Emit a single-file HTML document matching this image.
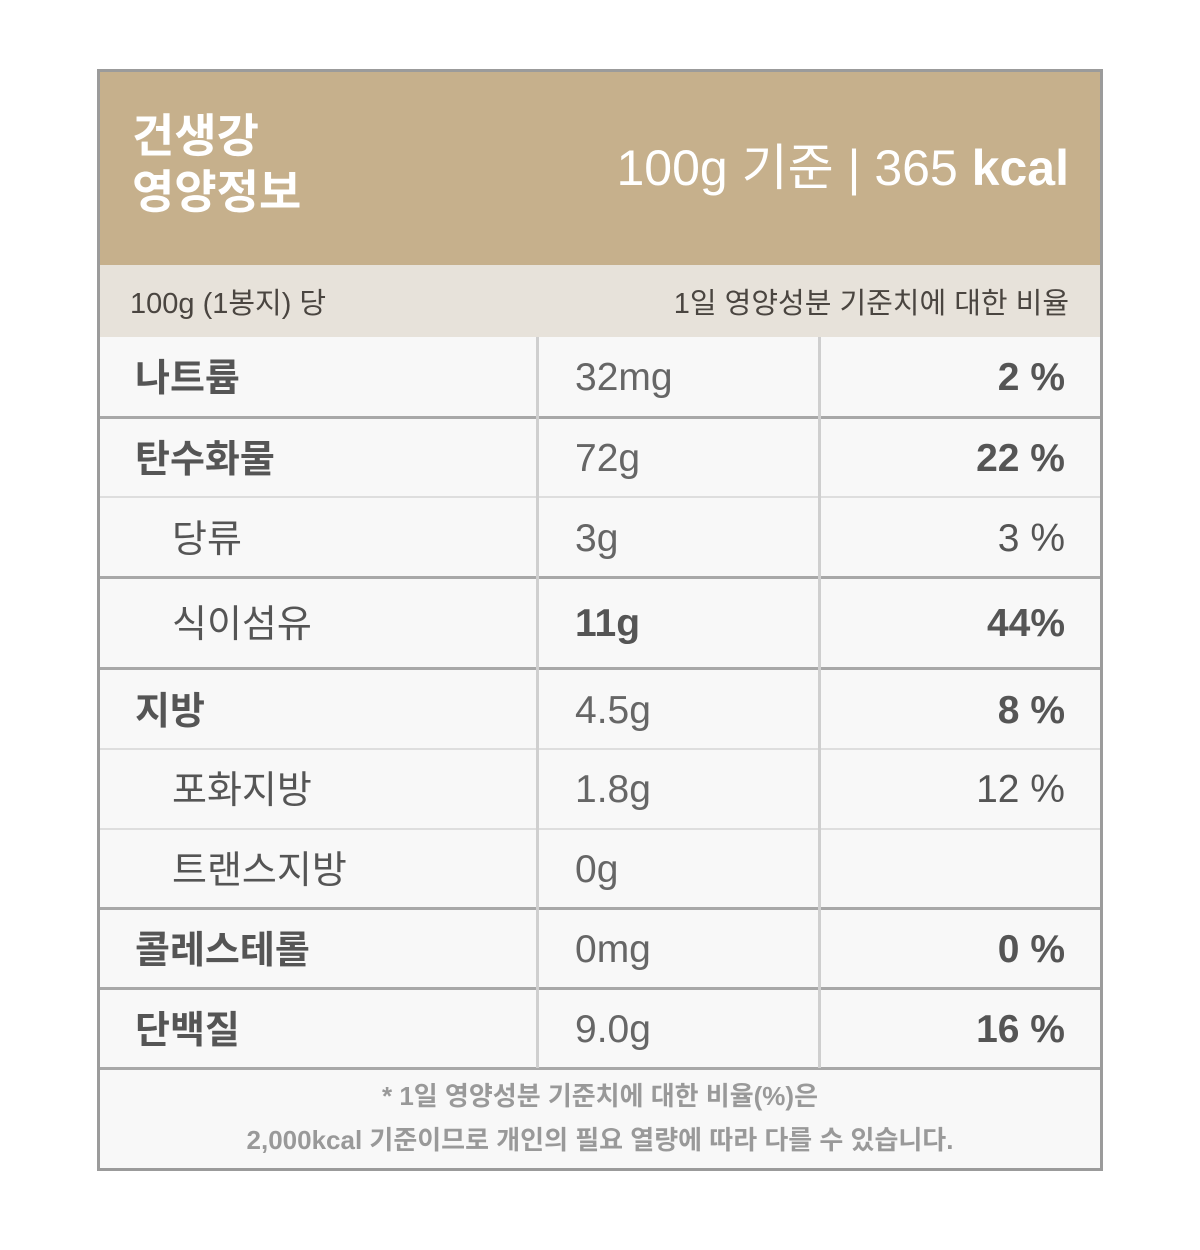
<!DOCTYPE html>
<html><head><meta charset="utf-8"><style>
body{margin:0;width:1200px;height:1250px;background:#fff;font-family:"Liberation Sans","Noto Sans CJK KR",sans-serif;position:relative;overflow:hidden}
.a{position:absolute}
.box{left:97px;top:69px;width:1000px;height:1096px;border:3px solid #9b9b9b;background:#f8f8f8}
.hdr{left:100px;top:72px;width:1000px;height:193px;background:#c6b08c}
.sub{left:100px;top:265px;width:1000px;height:72px;background:#e7e2da}
.hl{position:absolute;left:100px;width:1000px}
.thick{height:3px;background:#a8a8a8}
.thin{height:2px;background:#dedede}
.vl{position:absolute;top:337px;height:731px;width:3px;background:#cfcfcf}
.lab{position:absolute;font-size:38px;color:#555;font-weight:bold;left:135px;margin-top:-7px}
.lab.s{font-weight:normal;left:172px}
.val{position:absolute;font-size:39px;color:#666;left:575px;margin-top:2px}
.pct{position:absolute;font-size:39px;color:#555;right:135px;font-weight:bold;margin-top:2px}
.pct.n{font-weight:normal}
</style></head><body>
<div class="a box"></div>
<div class="a hdr"></div>
<div class="a sub"></div>
<div class="a" style="left:132px;top:108px;font-size:46px;line-height:56px;font-weight:bold;color:#fff">건생강<br>영양정보</div>
<div class="a" style="right:131px;top:128px;font-size:50px;color:#fff">100g 기준 | 365 <b>kcal</b></div>
<div class="a" style="left:130px;top:280px;font-size:29px;color:#4a4540">100g (1봉지) 당</div>
<div class="a" style="right:131px;top:280px;font-size:29px;color:#4a4540">1일 영양성분 기준치에 대한 비율</div>

<div class="hl thick" style="top:416px"></div>
<div class="hl thin" style="top:496px"></div>
<div class="hl thick" style="top:576px"></div>
<div class="hl thick" style="top:667px"></div>
<div class="hl thin" style="top:748px"></div>
<div class="hl thin" style="top:828px"></div>
<div class="hl thick" style="top:907px"></div>
<div class="hl thick" style="top:987px"></div>
<div class="hl thick" style="top:1067px"></div>
<div class="vl" style="left:536px"></div>
<div class="vl" style="left:818px"></div>

<div class="lab" style="top:354px">나트륨</div><div class="val" style="top:354px">32mg</div><div class="pct" style="top:354px">2 %</div>
<div class="lab" style="top:435px">탄수화물</div><div class="val" style="top:435px">72g</div><div class="pct" style="top:435px">22 %</div>
<div class="lab s" style="top:515px">당류</div><div class="val" style="top:515px">3g</div><div class="pct n" style="top:515px">3 %</div>
<div class="lab s" style="top:600px">식이섬유</div><div class="val" style="top:600px;font-weight:bold;color:#555">11g</div><div class="pct" style="top:600px">44%</div>
<div class="lab" style="top:687px">지방</div><div class="val" style="top:687px">4.5g</div><div class="pct" style="top:687px">8 %</div>
<div class="lab s" style="top:766px">포화지방</div><div class="val" style="top:766px">1.8g</div><div class="pct n" style="top:766px">12 %</div>
<div class="lab s" style="top:846px">트랜스지방</div><div class="val" style="top:846px">0g</div>
<div class="lab" style="top:926px">콜레스테롤</div><div class="val" style="top:926px">0mg</div><div class="pct" style="top:926px">0 %</div>
<div class="lab" style="top:1006px">단백질</div><div class="val" style="top:1006px">9.0g</div><div class="pct" style="top:1006px">16 %</div>

<div class="a" style="left:100px;width:1000px;top:1074px;text-align:center;font-size:26px;line-height:44px;color:#999;font-weight:bold">* 1일 영양성분 기준치에 대한 비율(%)은<br>2,000kcal 기준이므로 개인의 필요 열량에 따라 다를 수 있습니다.</div>
</body></html>
